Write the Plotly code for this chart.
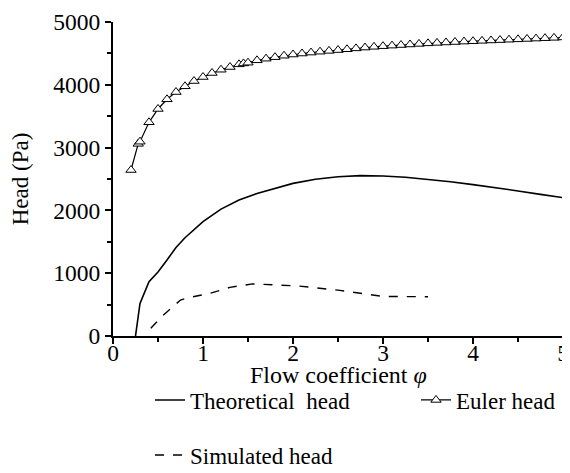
import plotly.graph_objects as go

# Euler head (triangles)
euler_x = [0.2, 0.28, 0.3, 0.4, 0.5, 0.6, 0.7, 0.8, 0.9, 1.0, 1.1, 1.2, 1.3, 1.4, 1.45, 1.5,
           1.6, 1.7, 1.8, 1.9, 2.0, 2.1, 2.2, 2.3, 2.4, 2.5, 2.6, 2.7, 2.8, 2.9, 3.0,
           3.1, 3.2, 3.3, 3.4, 3.5, 3.6, 3.7, 3.8, 3.9, 4.0, 4.1, 4.2, 4.3, 4.4, 4.5,
           4.6, 4.7, 4.8, 4.9, 5.0]
euler_y = [2643, 3060, 3094, 3403, 3615, 3769, 3885, 3976, 4060, 4124, 4188, 4240, 4283, 4326, 4340, 4352,
           4390, 4416, 4440, 4463, 4482, 4498, 4513, 4527, 4540, 4553, 4566, 4580, 4593, 4605, 4615,
           4624, 4633, 4642, 4651, 4660, 4667, 4674, 4681, 4688, 4694, 4700, 4706, 4712, 4718, 4724,
           4730, 4736, 4742, 4748, 4754]

# Theoretical head (solid)
theo_x = [0.25, 0.3, 0.4, 0.5, 0.6, 0.7, 0.8, 0.9, 1.0, 1.2, 1.4, 1.6, 1.8, 2.0, 2.25, 2.5,
          2.75, 3.0, 3.25, 3.5, 3.75, 4.0, 4.25, 4.5, 4.75, 5.0]
theo_y = [0, 520, 865, 1020, 1210, 1410, 1565, 1700, 1820, 2020, 2165, 2270, 2350, 2430, 2495, 2535,
          2553, 2548, 2528, 2497, 2457, 2410, 2364, 2310, 2255, 2202]

# Simulated head (dashed)
sim_x = [0.42, 0.54, 0.75, 0.84, 1.08, 1.3, 1.55, 1.78, 2.06, 2.5, 2.75, 3.0, 3.5]
sim_y = [122, 307, 573, 610, 680, 775, 830, 812, 796, 730, 685, 630, 625]

X_TITLE = "Flow coefficient <i>φ</i>"
Y_TITLE = "Head (Pa)"

FONT = "Times New Roman"

# the page body has an 8px margin, so the figure is drawn 8px smaller
W, H = 562, 465
PLOT_BOTTOM = H - 137
PLOT_HEIGHT = PLOT_BOTTOM - 14

fig = go.Figure()
fig.add_trace(go.Scatter(x=theo_x, y=theo_y, mode="lines", name="Theoretical  head",
                         line=dict(color="black", width=1.6), legend="legend"))
fig.add_trace(go.Scatter(x=euler_x, y=euler_y, mode="lines+markers", name="Euler head",
                         line=dict(color="black", width=1.2),
                         marker=dict(symbol="triangle-up", size=9, color="white",
                                     line=dict(color="black", width=1)),
                         legend="legend2"))
fig.add_trace(go.Scatter(x=sim_x, y=sim_y, mode="lines", name="Simulated head",
                         line=dict(color="black", width=1.4, dash="dash"), legend="legend3"))

axis_common = dict(showline=True, linecolor="black", linewidth=2, ticks="outside",
                   ticklen=6, tickwidth=2, tickcolor="black", showgrid=False, zeroline=False,
                   tickfont=dict(family=FONT, size=23.5, color="black"), automargin=False)

leg_common = dict(orientation="h", xanchor="left", yanchor="middle", xref="container",
                  yref="container", bgcolor="rgba(0,0,0,0)",
                  font=dict(family=FONT, size=23, color="black"))

fig.update_layout(
    width=W, height=H,
    showlegend=True,
    margin=dict(l=105, r=7, t=14, b=137),
    paper_bgcolor="white", plot_bgcolor="white",
    font=dict(family=FONT, size=23, color="black"),
    xaxis=dict(range=[0, 5], dtick=1, tick0=0, ticklabelstandoff=-11,
               minor=dict(dtick=0.5, ticks="outside", ticklen=4, tickwidth=1.5, tickcolor="black"),
               **axis_common),
    yaxis=dict(range=[0, 5000], dtick=1000, tick0=0,
               minor=dict(dtick=500, ticks="outside", ticklen=4, tickwidth=1.5, tickcolor="black"),
               title=dict(text=Y_TITLE, font=dict(family=FONT, size=23), standoff=22),
               **axis_common),
    legend=dict(x=142 / W, y=(H - 392) / H, **leg_common),
    legend2=dict(x=408 / W, y=(H - 392) / H, **leg_common),
    legend3=dict(x=142 / W, y=(H - 447) / H, **leg_common),
    annotations=[dict(text=X_TITLE, xref="paper", yref="paper", x=0.5, xanchor="center",
                      y=-39 / PLOT_HEIGHT, yanchor="middle", showarrow=False,
                      font=dict(family=FONT, size=24, color="black"))],
)

fig.write_html("out.html")
